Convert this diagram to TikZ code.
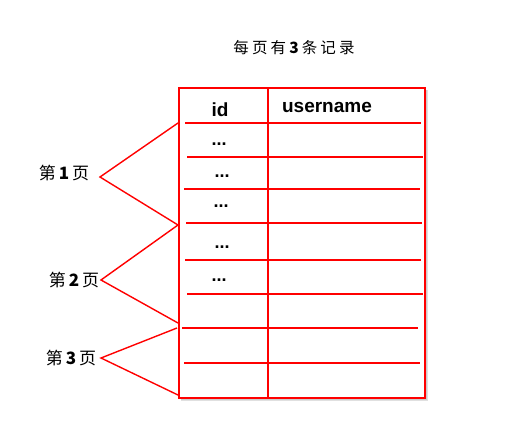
\documentclass[tikz,border=0pt]{standalone}
\usepackage{fontspec}
\setmainfont{Liberation Sans}
\newfontfamily\cjk{Noto Sans CJK SC}
\definecolor{myred}{RGB}{255,0,0}
\begin{document}
\begin{tikzpicture}[x=1pt,y=-1pt,
  redline/.style={draw=myred,line width=1.4pt},
  hdr/.style={font=\bfseries\fontsize{19}{19}\selectfont,inner sep=0pt},
  dots/.style={font=\bfseries\fontsize{18}{18}\selectfont,inner sep=0pt,anchor=base},
  pagelbl/.style={font=\cjk\fontsize{17}{17}\selectfont,inner sep=0pt}]
\useasboundingbox (0,0) rectangle (509,428);
% table frame with soft shadow
\fill[black!12] (181,90) rectangle (428,401);
\fill[black!20] (181,90) rectangle (427,400);
\fill[white] (179,88) rectangle (425,398);
\draw[draw=myred,line width=2.2pt] (179,88) rectangle (425,398);
\draw[redline] (268,88) -- (268,398);
\foreach \y/\a/\b in {123/185/421,157/187/423,189/184/420,223/186/422,260/185/421,294/187/423,328/182/418,363/184/420}
  \draw[redline] (\a,\y) -- (\b,\y);
% header
\node[hdr,anchor=base] (id) at (220,116) {id};
\node[hdr,anchor=base] (un) at (327,112) {username};
\node[dots] (d1) at (219,145) {...};
\node[dots] (d2) at (222,177) {...};
\node[dots] (d3) at (221,207) {...};
\node[dots] (d4) at (222,248) {...};
\node[dots] (d5) at (219,281) {...};
% title
\node[font=\cjk\fontsize{15.5}{15.5}\selectfont\addfontfeature{LetterSpace=20},inner sep=0pt] (title) at (294,48) {每页有\textbf{3}条记录};
% page labels
\node[pagelbl] (p1) at (64,173) {第\,\textbf{1}\,页};
\node[pagelbl] (p2) at (74,280) {第\,\textbf{2}\,页};
\node[pagelbl] (p3) at (71,358) {第\,\textbf{3}\,页};
\coordinate (a1) at (100,177);
\coordinate (a2) at (101,280);
\coordinate (a3) at (101,358);
\coordinate (e1) at (178,123);
\coordinate (e2) at (178,225);
\coordinate (e3) at (178,323);
\coordinate (e4) at (177,328);
\coordinate (e5) at (178,395);
\draw[redline] (e1) -- (a1) -- (e2);
\draw[redline] (e2) -- (a2) -- (e3);
\draw[redline] (e4) -- (a3) -- (e5);
\end{tikzpicture}
\end{document}
